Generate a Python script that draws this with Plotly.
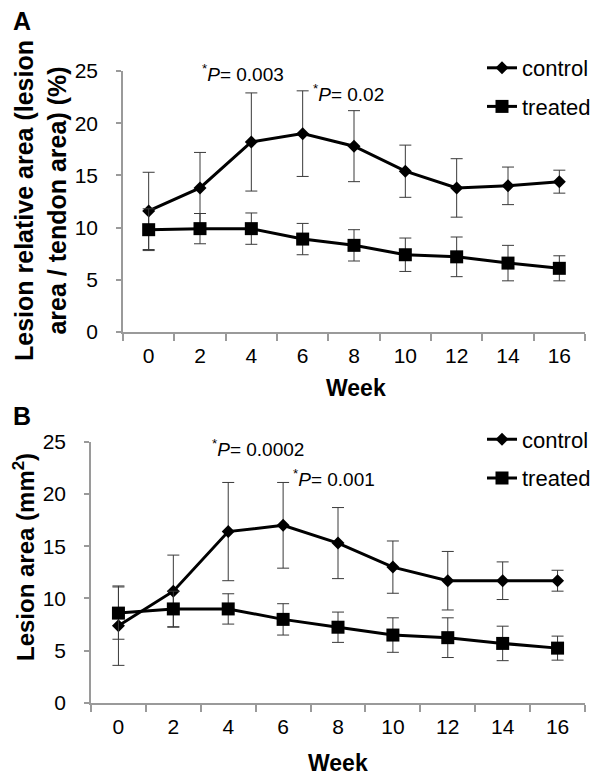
import plotly.graph_objects as go

weeks = ["0", "2", "4", "6", "8", "10", "12", "14", "16"]

# Panel A: lesion relative area (%)
a_control = [11.6, 13.8, 18.2, 19.0, 17.8, 15.4, 13.8, 14.0, 14.4]
a_control_err = [3.7, 3.4, 4.7, 4.1, 3.4, 2.5, 2.8, 1.8, 1.1]
a_treated = [9.8, 9.9, 9.9, 8.9, 8.3, 7.4, 7.2, 6.6, 6.1]
a_treated_err = [2.0, 1.45, 1.5, 1.5, 1.5, 1.6, 1.9, 1.7, 1.2]

# Panel B: lesion area (mm2)
b_control = [7.4, 10.7, 16.4, 17.0, 15.3, 13.0, 11.7, 11.7, 11.7]
b_control_err = [3.8, 3.45, 4.7, 4.1, 3.4, 2.5, 2.8, 1.8, 1.0]
b_treated = [8.6, 9.0, 9.0, 8.0, 7.25, 6.5, 6.25, 5.7, 5.25]
b_treated_err = [2.5, 1.7, 1.45, 1.5, 1.45, 1.65, 1.9, 1.65, 1.15]

y_ticks = [0, 5, 10, 15, 20, 25]

FONT = "Liberation Sans, Arial, Helvetica, sans-serif"
OFF = 8  # page body margin
W, H = 600 - OFF, 777 - OFF


def px(x):
    return (x - OFF) / W


def py(y):
    return 1 - (y - OFF) / H


fig = go.Figure()


def add_pair(ctrl, ctrl_err, trt, trt_err, xa, ya, leg):
    err_style = dict(type="data", visible=True, color="#3a3a3a", thickness=1, width=6)
    fig.add_trace(go.Scatter(
        x=weeks, y=ctrl, name="control", mode="lines+markers",
        line=dict(color="black", width=3),
        marker=dict(symbol="diamond", size=10, color="black"),
        error_y=dict(array=ctrl_err, **err_style),
        xaxis=xa, yaxis=ya, legend=leg, legendgroup=leg + "c",
    ))
    fig.add_trace(go.Scatter(
        x=weeks, y=trt, name="treated", mode="lines+markers",
        line=dict(color="black", width=3),
        marker=dict(symbol="square", size=13, color="black"),
        error_y=dict(array=trt_err, **err_style),
        xaxis=xa, yaxis=ya, legend=leg, legendgroup=leg + "t",
    ))


add_pair(a_control, a_control_err, a_treated, a_treated_err, "x", "y", "legend")
add_pair(b_control, b_control_err, b_treated, b_treated_err, "x2", "y2", "legend2")

axis_common = dict(
    showline=True, linecolor="#9a9a9a", linewidth=1.5, showgrid=False, zeroline=False,
    ticks="outside", tickcolor="#9a9a9a", tickwidth=1.5, automargin=False,
    tickfont=dict(family=FONT, size=21, color="black"),
)

xa_common = dict(axis_common, type="category", categoryorder="array", categoryarray=weeks,
                 range=[-0.5, 8.5], tickson="boundaries", ticklen=7, ticklabelstandoff=4)
ya_common = dict(axis_common, range=[0, 25], tickvals=y_ticks, ticklen=5, ticklabelstandoff=14)

legend_common = dict(
    font=dict(family=FONT, size=22, color="black"),
    bgcolor="rgba(0,0,0,0)", borderwidth=0, tracegroupgap=7,
    xanchor="left", yanchor="top", itemwidth=30,
)

fig.update_layout(
    width=W, height=H,
    margin=dict(l=0, r=0, t=0, b=0, autoexpand=False),
    paper_bgcolor="white", plot_bgcolor="white",
    font=dict(family=FONT, color="black"),
    xaxis=dict(xa_common, domain=[px(123), px(585)], anchor="y"),
    yaxis=dict(ya_common, domain=[py(332), py(71)], anchor="x"),
    xaxis2=dict(xa_common, domain=[px(91), px(585)], anchor="y2"),
    yaxis2=dict(ya_common, domain=[py(703), py(441.7)], anchor="x2"),
    legend=dict(legend_common, x=px(482), y=py(47)),
    legend2=dict(legend_common, x=px(482), y=py(418.5)),
)

ann_font = dict(family=FONT, size=19, color="black")
title_font = dict(family=FONT, size=23, color="black")

annotations = [
    # panel letters
    dict(x=px(22), y=py(21), text="<b>A</b>", font=dict(family=FONT, size=25, color="black")),
    dict(x=px(22), y=py(416), text="<b>B</b>", font=dict(family=FONT, size=25, color="black")),
    # p-values
    dict(x=px(200), y=py(73), text="<sup>*</sup><i>P</i>= 0.003", font=ann_font, xanchor="left"),
    dict(x=px(311), y=py(93), text="<sup>*</sup><i>P</i>= 0.02", font=ann_font, xanchor="left"),
    dict(x=px(210), y=py(448), text="<sup>*</sup><i>P</i>= 0.0002", font=ann_font, xanchor="left"),
    dict(x=px(291), y=py(478), text="<sup>*</sup><i>P</i>= 0.001", font=ann_font, xanchor="left"),
    # axis titles
    dict(x=px(356), y=py(388), text="<b>Week</b>", font=title_font),
    dict(x=px(338), y=py(763), text="<b>Week</b>", font=title_font),
    dict(x=px(40), y=py(201), text="<b>Lesion relative area (lesion<br>area / tendon area) (%)</b>",
         font=dict(family=FONT, size=25, color="black"), textangle=-90),
    dict(x=px(24), y=py(557), text="<b>Lesion area (mm<sup>2</sup>)</b>",
         font=dict(family=FONT, size=24, color="black"), textangle=-90),
]
for a in annotations:
    a.setdefault("xref", "paper")
    a.setdefault("yref", "paper")
    a.setdefault("showarrow", False)
    a.setdefault("xanchor", "center")
    a.setdefault("yanchor", "middle")
fig.update_layout(annotations=annotations)

fig.write_html("out.html")
